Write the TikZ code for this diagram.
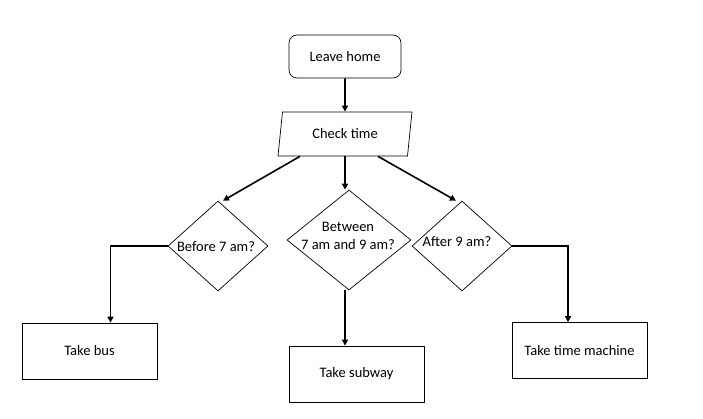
\documentclass[tikz,border=0pt]{standalone}
\usepackage{fontspec}
\setmainfont{Carlito}
\usetikzlibrary{arrows.meta,positioning,calc,shapes.geometric}
\tikzset{
  startbox/.style = {draw, rounded corners=8pt, minimum width=112pt,
                     minimum height=43pt, align=center},
  iobox/.style    = {draw, trapezium, trapezium left angle=75,
                     trapezium right angle=105, trapezium stretches body,
                     minimum width=134pt, minimum height=44pt},
  decision/.style = {draw, diamond, inner sep=0pt},
  procbox/.style  = {draw, rectangle, minimum width=135pt,
                     minimum height=56pt, align=center},
  txt/.style      = {inner sep=0pt, align=center},
  flow/.style     = {-{Triangle[length=6pt,width=6pt]}, line width=1.6pt},
}

\begin{document}
\begin{tikzpicture}[x=1pt, y=-1pt, line width=0.7pt,
                    font=\fontsize{14.5}{18}\selectfont]
\useasboundingbox (0,0) rectangle (703,419);
% ---- start and input ----
\node[startbox] (home) at (345,56.5) {Leave home};
\node[iobox] (check) at (345,134) {Check time};
% ---- the three tests ----
\node[decision, minimum width=100pt, minimum height=90pt]
      (before) at (218,246) {};
\node[txt] (beforetxt) at (216,247) {Before 7 am?};
\node[decision, minimum width=124pt, minimum height=100pt]
      (between) at (349,240) {};
\node[txt] (betweentxt) at (348,236) {Between\\7 am and 9 am?};
\node[decision, minimum width=100pt, minimum height=90pt]
      (after) at (462,246) {};
\node[txt] (aftertxt) at (457,242) {After 9 am?};
% ---- the three ways ----
\node[procbox] (bus) at (89.5,351) {Take bus};
\node[procbox] (subway) at (356.5,374) {Take subway};
\node[procbox] (machine) at (579.5,350.5) {Take time machine};
% ---- connectors ----
\draw[flow] (home) -- (check);
\draw[flow] ($(check.south)+(-45,0)$) -- ($(before.north)+(5,0)$);
\draw[flow] (check.south) -- (check.south |- between.north);
\draw[flow] ($(check.south)+(33,0)$) -- ($(after.north)+(-6,0)$);
\draw[flow] (before.west) -| ($(bus.north)+(21,0)$);
\draw[flow] (check.south |- between.south) -- (check.south |- subway.north);
\draw[flow] (after.east) -| ($(machine.north)+(-11.5,0)$);
\end{tikzpicture}
\end{document}
